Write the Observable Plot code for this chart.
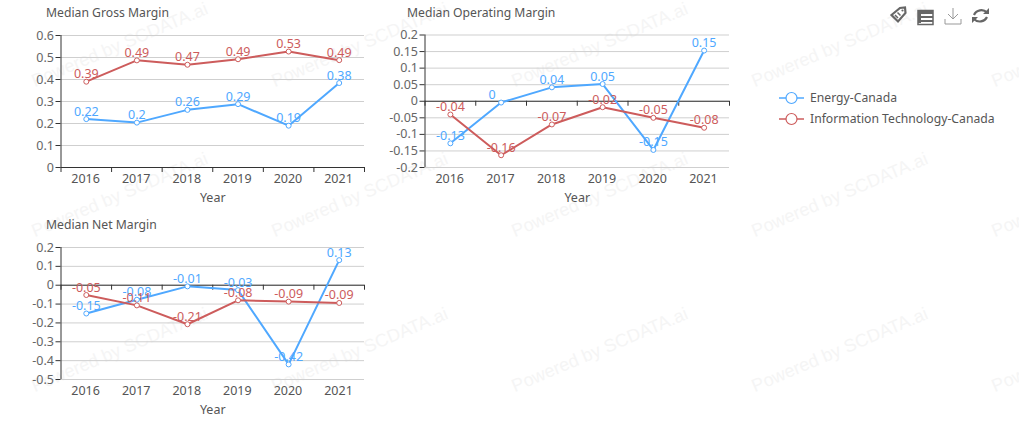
<!DOCTYPE html>
<html><head><meta charset="utf-8">
<script src="https://cdn.jsdelivr.net/npm/d3@7"></script>
<script src="https://cdn.jsdelivr.net/npm/@observablehq/plot@0.6"></script>
<style>
html,body{margin:0;padding:0;background:#fff;}
#root{position:relative;width:1019px;height:441px;overflow:hidden;font-family:"Noto Sans","Open Sans",sans-serif;}
.wm{position:absolute;font:18px "Liberation Sans",Arial,sans-serif;color:#f5f5f5;transform-origin:0 100%;transform:rotate(-23deg);white-space:nowrap;line-height:18px;}
.title{position:absolute;font-size:12.2px;color:#555;line-height:16px;white-space:nowrap;}
.chart{position:absolute;}
.chart svg{overflow:visible;background:transparent;display:block;}
.leg{position:absolute;font-size:12.2px;color:#555;line-height:16px;white-space:nowrap;}
</style></head>
<body><div id="root"></div>
<script>
const years = [2016, 2017, 2018, 2019, 2020, 2021];
const edges = [2015.5, 2016.5, 2017.5, 2018.5, 2019.5, 2020.5, 2021.5];
const seriesNames = ["Energy-Canada", "Information Technology-Canada"];
const colors = ["#4fa8ff", "#cd5c5c"];

const grossEnergy = [0.22, 0.204, 0.262, 0.288, 0.19, 0.384];
const grossTech = [0.39, 0.487, 0.467, 0.492, 0.527, 0.488];
const operEnergy = [-0.127, -0.004, 0.042, 0.052, -0.147, 0.153];
const operTech = [-0.04, -0.163, -0.07, -0.018, -0.05, -0.08];
const netEnergy = [-0.15, -0.077, -0.006, -0.026, -0.42, 0.133];
const netTech = [-0.052, -0.107, -0.207, -0.08, -0.087, -0.094];

const grossTicks = [0, 0.1, 0.2, 0.3, 0.4, 0.5, 0.6];
const operTicks = [-0.2, -0.15, -0.1, -0.05, 0, 0.05, 0.1, 0.15, 0.2];
const netTicks = [-0.5, -0.4, -0.3, -0.2, -0.1, 0, 0.1, 0.2];

const root = document.getElementById("root");

// faint watermark
for (const top of [72, 222, 377]) for (const left of [36, 276, 516, 756, 996]) {
  const d = document.createElement("div");
  d.className = "wm"; d.textContent = "Powered by SCDATA.ai";
  d.style.left = left + "px"; d.style.top = top + "px";
  root.appendChild(d);
}

function chart({title, titleX, titleY, left, top, width, height, mL, mR, mT, mB, ticks, a, b}) {
  const rows = [];
  years.forEach((y, i) => {
    rows.push({year: y, value: a[i], s: 0});
    rows.push({year: y, value: b[i], s: 1});
  });
  const fmt = v => String(+v.toFixed(2) + 0);
  const plot = Plot.plot({
    width, height, marginLeft: mL, marginRight: mR, marginTop: mT, marginBottom: mB,
    style: {fontFamily: '"Noto Sans","Open Sans",sans-serif', fontSize: "12.5px", background: "transparent"},
    x: {domain: [2015.5, 2021.5]},
    y: {domain: [ticks[0], ticks[ticks.length - 1]]},
    marks: [
      Plot.gridY(ticks, {stroke: "#cfcfcf", strokeOpacity: 1, strokeWidth: 1}),
      Plot.axisY(ticks, {tickSize: 5, tickPadding: 2, stroke: "#333", color: "#666", fill: "#666", label: null, tickFormat: d => String(d)}),
      Plot.axisX(years, {anchor: "bottom", tickSize: 0, tickPadding: 7, fill: "#555", tickFormat: d => String(d),
        label: "Year", labelAnchor: "center", labelArrow: "none", labelOffset: 34, dx: -0.7}),
      Plot.ruleX([ticks[0]], {x: () => 2015.5, y1: ticks[0], y2: ticks[ticks.length - 1], stroke: "#333"}),
      Plot.ruleY([0], {stroke: "#333"}),
      Plot.ruleX(edges, {x: d => d, y1: 0, y2: 0, insetBottom: -5, stroke: "#333"}),
      Plot.line(rows, {x: "year", y: "value", z: "s", stroke: d => colors[d.s], strokeWidth: 2, curve: "linear"}),
      Plot.dot(rows, {x: "year", y: "value", r: 2.5, fill: "#fff", stroke: d => colors[d.s], strokeWidth: 1}),
      Plot.text(rows.filter(d => fmt(d.value) !== "0"), {x: "year", y: "value", text: d => fmt(d.value), dy: -7.5, fill: d => colors[d.s], fontSize: 12.5}),
      Plot.text(rows.filter(d => fmt(d.value) === "0"), {x: "year", y: "value", text: d => fmt(d.value), dy: -7.5, dx: -9, fill: d => colors[d.s], fontSize: 12.5})
    ]
  });
  const holder = document.createElement("div");
  holder.className = "chart";
  holder.style.left = left + "px"; holder.style.top = top + "px";
  holder.appendChild(plot);
  root.appendChild(holder);
  const t = document.createElement("div");
  t.className = "title"; t.textContent = title;
  t.style.left = titleX + "px"; t.style.top = titleY + "px";
  root.appendChild(t);
}

chart({title: "Median Gross Margin", titleX: 46, titleY: 5, left: 0, top: 0, width: 380, height: 210, mL: 60.5, mR: 16, mT: 35, mB: 43, ticks: grossTicks, a: grossEnergy, b: grossTech});
chart({title: "Median Operating Margin", titleX: 407, titleY: 5, left: 380, top: 0, width: 370, height: 210, mL: 44.5, mR: 21, mT: 34.5, mB: 43, ticks: operTicks, a: operEnergy, b: operTech});
chart({title: "Median Net Margin", titleX: 46, titleY: 217, left: 0, top: 210, width: 380, height: 215, mL: 60.5, mR: 16, mT: 37, mB: 46, ticks: netTicks, a: netEnergy, b: netTech});

// legend
seriesNames.forEach((name, i) => {
  const y = 97.5 + i * 21.5;
  const g = document.createElementNS("http://www.w3.org/2000/svg", "svg");
  g.setAttribute("width", 26); g.setAttribute("height", 16);
  g.style.cssText = `position:absolute;left:779px;top:${y - 8}px;`;
  g.innerHTML = `<line x1="0" x2="25" y1="8" y2="8" stroke="${colors[i]}" stroke-width="1.5"/><circle cx="12.5" cy="8" r="5.5" fill="#fff" stroke="${colors[i]}" stroke-width="1.2"/>`;
  root.appendChild(g);
  const l = document.createElement("div");
  l.className = "leg"; l.textContent = name;
  l.style.left = "810px"; l.style.top = (y - 8) + "px";
  root.appendChild(l);
});

// toolbox icons
const icons = document.createElementNS("http://www.w3.org/2000/svg", "svg");
icons.setAttribute("width", 110); icons.setAttribute("height", 26);
icons.style.cssText = "position:absolute;left:885px;top:3px;";
icons.innerHTML = `
<g fill="none" stroke="#666">
<path d="M6.500 12 L15 5 L20 4.500 L20.500 10 L13 18.500 Z" fill="#fff" stroke-width="2.200"/>
<path d="M10 12l3 3M12.500 9.500l3 3" stroke-width="1.500"/><circle cx="17.500" cy="7.500" r="1.100" fill="#666" stroke="none"/>
<path d="M33 7.500h15v14h-15z" stroke-width="1.500"/><path d="M33 8h15v3h-15z M33 13h15v2h-15z M33 17h15v2h-15z M33 8h3v12h-3z" fill="#666" stroke="none"/>
<path d="M68 5v11 M63 11l5 5 5-5 M60 16v5h16v-5" stroke="#999" stroke-width="1"/>
<path d="M102 9.500 A8 8 0 0 0 89 12 M89 16 A8 8 0 0 0 102 14" stroke-width="2.200"/>
<path d="M104 5v6h-6z M87 20v-6h6z" fill="#666" stroke="none"/>
</g>`;
root.appendChild(icons);
</script>
</body></html>
